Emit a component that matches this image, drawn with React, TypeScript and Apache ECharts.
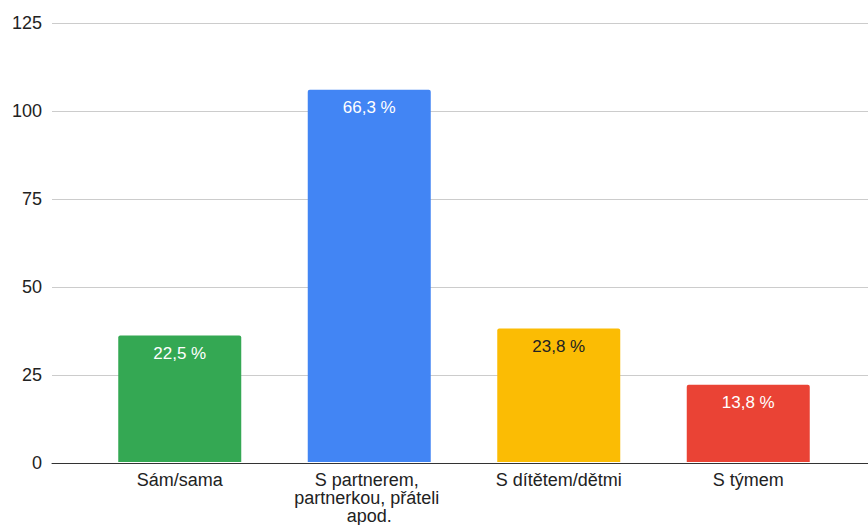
import React, { useEffect, useRef } from "react";
import * as echarts from "echarts";

const categories = ["Sám/sama", "S partnerem, partnerkou, přáteli apod.", "S dítětem/dětmi", "S týmem"];
const counts = [36, 106, 38, 22];
const percentLabels = ["22,5 %", "66,3 %", "23,8 %", "13,8 %"];
const barColors = ["#34a853", "#4285f4", "#fbbc04", "#ea4335"];
const labelColors = ["#ffffff", "#ffffff", "#222222", "#ffffff"];
const yMin = 0;
const yMax = 125;
const yStep = 25;

export default function App() {
  const ref = useRef<HTMLDivElement>(null);
  useEffect(() => {
    if (!ref.current) return;
    const chart = echarts.init(ref.current, undefined, { renderer: "svg" });
    const font = "Liberation Sans, Arial, sans-serif";
    chart.setOption({
      animation: false,
      backgroundColor: "#ffffff",
      textStyle: { fontFamily: font },
      grid: [
        { left: 52, right: 0, top: 23, bottom: 62 },
        { left: 85, right: 25, top: 23, bottom: 62 },
      ],
      xAxis: [
        {
          gridIndex: 0,
          type: "category",
          data: [""],
          axisLine: { show: true, lineStyle: { color: "#333333", width: 1 } },
          axisTick: { show: false },
          axisLabel: { show: false },
        },
        {
          gridIndex: 1,
          type: "category",
          data: categories,
          axisLine: { show: false },
          axisTick: { show: false },
          axisLabel: {
            interval: 0,
            fontSize: 18,
            color: "#222222",
            margin: 9,
            width: 182,
            overflow: "break",
            lineHeight: 18,
            fontFamily: font,
          },
        },
      ],
      yAxis: [
        {
          gridIndex: 0,
          type: "value",
          min: yMin,
          max: yMax,
          interval: yStep,
          axisLine: { show: false },
          axisTick: { show: false },
          axisLabel: { fontSize: 18, color: "#222222", margin: 10, fontFamily: font },
          splitLine: { show: true, lineStyle: { color: "#cccccc", width: 1 } },
        },
        {
          gridIndex: 1,
          type: "value",
          min: yMin,
          max: yMax,
          interval: yStep,
          show: false,
          splitLine: { show: false },
        },
      ],
      series: [
        {
          type: "bar",
          xAxisIndex: 1,
          yAxisIndex: 1,
          barWidth: 123,
          z: 1,
          data: counts.map((v, i) => ({
            value: v,
            itemStyle: { color: barColors[i], borderRadius: [2, 2, 0, 0] },
            label: {
              show: true,
              position: "insideTop",
              distance: 9,
              formatter: percentLabels[i],
              color: labelColors[i],
              fontSize: 17,
              fontFamily: font,
            },
          })),
        },
      ],
    });
    return () => chart.dispose();
  }, []);
  return (
    <div
      ref={ref}
      style={{ position: "absolute", left: 0, top: 0, width: 868, height: 525 }}
    />
  );
}
